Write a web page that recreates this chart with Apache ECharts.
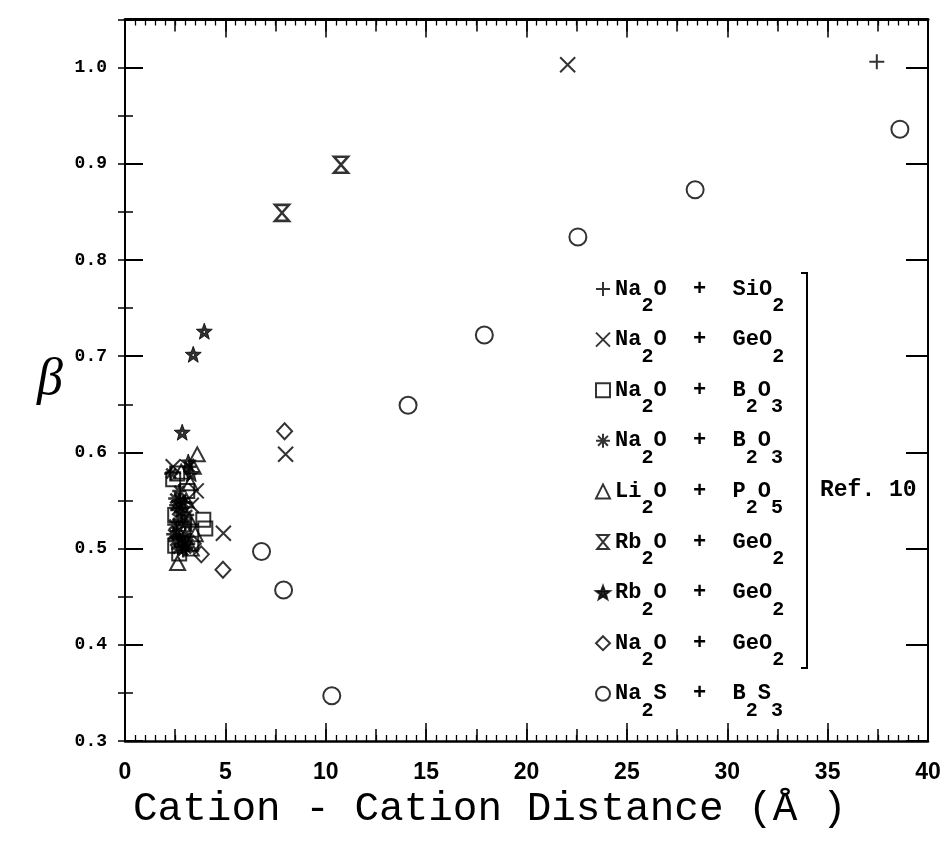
<!DOCTYPE html>
<html>
<head>
<meta charset="utf-8">
<title>β vs cation-cation distance</title>
<script src="https://cdn.jsdelivr.net/npm/echarts@6/dist/echarts.min.js"></script>
<style>
  html, body { margin: 0; padding: 0; background: #fff; }
  #chart { width: 947px; height: 848px; }
</style>
</head>
<body>
<div id="chart"></div>
<script>
// Axis ranges and tick spacing
const xRange = [0, 40];
const yRange = [0.3, 1.05];
const xMajor = 5, xMedium = 2.5;
const yMajor = 0.1, yMinor = 0.05;

// Series keys (unique) and their legend labels (rich text with subscripts)
const seriesKeys = ['NaSi', 'NaGeX', 'NaBsq', 'NaBast', 'LiP', 'RbGeHg', 'RbGeStar', 'NaGeDia', 'NaSB'];
const legendLabels = [
  '{m|Na}{s|2}{m|O  +  SiO}{s|2}',
  '{m|Na}{s|2}{m|O  +  GeO}{s|2}',
  '{m|Na}{s|2}{m|O  +  B}{s|2}{m|O}{s|3}',
  '{m|Na}{s|2}{m|O  +  B}{s|2}{m|O}{s|3}',
  '{m|Li}{s|2}{m|O  +  P}{s|2}{m|O}{s|5}',
  '{m|Rb}{s|2}{m|O  +  GeO}{s|2}',
  '{m|Rb}{s|2}{m|O  +  GeO}{s|2}',
  '{m|Na}{s|2}{m|O  +  GeO}{s|2}',
  '{m|Na}{s|2}{m|S  +  B}{s|2}{m|S}{s|3}'
];

// Data: [cation-cation distance (Å), β]
const naSi = [[37.45, 1.006], [3.0, 0.548], [3.3, 0.525], [2.7, 0.512]];
const naGeX = [[22.05, 1.003], [8.0, 0.598], [4.9, 0.516], [3.55, 0.56], [2.4, 0.585], [3.3, 0.545]];
const naBsq = [[2.4, 0.572], [2.6, 0.578], [3.9, 0.530], [4.0, 0.521], [2.5, 0.503], [2.7, 0.495],
               [3.3, 0.505], [2.9, 0.52], [2.5, 0.535], [3.1, 0.56]];
const naBast = [[2.3, 0.578], [2.5, 0.552], [2.6, 0.540], [2.7, 0.530], [2.9, 0.548], [2.6, 0.518],
                [2.8, 0.505], [2.5, 0.508], [3.0, 0.515], [2.7, 0.56], [3.1, 0.535], [2.9, 0.498],
                [3.2, 0.585], [2.45, 0.525], [2.8, 0.538], [3.0, 0.525], [2.55, 0.545], [2.9, 0.51],
                [2.65, 0.5], [3.15, 0.505], [2.4, 0.515], [2.75, 0.55], [3.05, 0.5]];
const liP = [[3.6, 0.598], [3.25, 0.568], [2.62, 0.485], [3.4, 0.585], [3.05, 0.55], [3.3, 0.5],
             [2.8, 0.58], [3.5, 0.515], [3.2, 0.53]];
const rbGeHg = [[10.76, 0.899], [7.82, 0.849]];
const rbGeStar = [[3.95, 0.726], [3.4, 0.702], [2.85, 0.621], [3.15, 0.59], [3.3, 0.578]];
const naGeDia = [[7.95, 0.622], [4.88, 0.478], [3.8, 0.494], [3.4, 0.505]];
const naSB = [[38.6, 0.936], [28.4, 0.873], [22.56, 0.824], [17.9, 0.722], [14.1, 0.649],
              [6.8, 0.497], [7.9, 0.457], [10.3, 0.347]];

// Marker shapes
const SYM_PLUS = 'path://M0,5L10,5M5,0L5,10';
const SYM_CROSS = 'path://M0,0L10,10M10,0L0,10';
const SYM_AST = 'path://M0,5L10,5M5,0L5,10M1.5,1.5L8.5,8.5M8.5,1.5L1.5,8.5';
const SYM_HOUR = 'path://M0,0L10,0L0,12L10,12Z';
const SYM_STAR = 'path://M10,0L12.47,6.6L19.51,6.91L13.99,11.3L15.88,18.09L10,14.2L4.12,18.09L6.01,11.3L0.49,6.91L7.53,6.6Z' +
                 'M10,8.2L8.29,9.44L8.94,11.46L11.06,11.46L11.71,9.44Z';

const hollow = { color: 'rgba(0,0,0,0)', borderColor: '#000', borderWidth: 2 };
const heavy = { color: 'rgba(0,0,0,0)', borderColor: '#000', borderWidth: 2.5 };
const solid = { color: '#000', borderColor: '#000', borderWidth: 1 };

const seriesDefs = [
  { data: naSi, symbol: SYM_PLUS, size: 15, style: hollow },
  { data: naGeX, symbol: SYM_CROSS, size: 15, style: hollow },
  { data: naBsq, symbol: 'rect', size: 14, style: hollow },
  { data: naBast, symbol: SYM_AST, size: 14, style: heavy },
  { data: liP, symbol: 'triangle', size: [15, 14], style: hollow },
  { data: rbGeHg, symbol: SYM_HOUR, size: [14, 16], style: heavy },
  { data: rbGeStar, symbol: SYM_STAR, size: 16, style: solid },
  { data: naGeDia, symbol: 'diamond', size: [15, 16], style: hollow },
  { data: naSB, symbol: 'circle', size: 17, style: hollow }
];

const series = seriesDefs.map((d, i) => ({
  type: 'scatter',
  name: seriesKeys[i],
  xAxisIndex: 0,
  yAxisIndex: 0,
  data: d.data,
  symbol: d.symbol,
  symbolSize: d.size,
  itemStyle: d.style,
  emphasis: { disabled: true },
  animation: false
}));

const black = '#000';
const noLabel = { show: false };
const noSplit = { show: false };

function tickAxis(base, extra) {
  return Object.assign({
    type: 'value',
    splitLine: noSplit,
    axisLabel: noLabel,
    axisLine: { show: false },
    axisTick: { show: true, inside: true, length: 10, lineStyle: { color: black, width: 1.5 } }
  }, base, extra);
}

const xAxes = [
  tickAxis({ position: 'bottom', min: xRange[0], max: xRange[1], interval: xMajor }, {
    axisLine: { show: true, onZero: false, lineStyle: { color: black, width: 2.5 } },
    axisTick: { show: true, inside: true, length: 18, lineStyle: { color: black, width: 1.5 } },
    minorTick: { show: true, splitNumber: 10, length: 6, lineStyle: { color: black, width: 1.3 } },
    axisLabel: {
      show: true, margin: 20, color: black,
      fontFamily: '"Liberation Sans Narrow", "Liberation Sans", sans-serif',
      fontWeight: 'bold', fontSize: 23
    }
  }),
  tickAxis({ position: 'bottom', min: xRange[0], max: xRange[1], interval: xMedium }, {
    axisTick: { show: true, inside: true, length: 12, lineStyle: { color: black, width: 1.5 } }
  }),
  tickAxis({ position: 'top', min: xRange[0], max: xRange[1], interval: xMajor }, {
    axisLine: { show: true, onZero: false, lineStyle: { color: black, width: 3 } },
    axisTick: { show: true, inside: true, length: 18, lineStyle: { color: black, width: 1.5 } },
    minorTick: { show: true, splitNumber: 10, length: 6, lineStyle: { color: black, width: 1.3 } }
  }),
  tickAxis({ position: 'top', min: xRange[0], max: xRange[1], interval: xMedium }, {
    axisTick: { show: true, inside: true, length: 12, lineStyle: { color: black, width: 1.5 } }
  })
];

const yAxes = [
  tickAxis({ position: 'left', min: yRange[0], max: yRange[1], interval: yMajor }, {
    axisLine: { show: true, onZero: false, lineStyle: { color: black, width: 2 } },
    axisTick: { show: true, inside: true, length: 18, lineStyle: { color: black, width: 2 } },
    axisLabel: {
      show: true, margin: 18, color: black, showMaxLabel: false,
      formatter: v => v.toFixed(1),
      fontFamily: '"Liberation Mono", monospace', fontWeight: 'bold', fontSize: 18
    },
    name: 'β',
    nameLocation: 'middle',
    nameRotate: 0,
    nameGap: 62,
    nameTextStyle: { fontFamily: '"Liberation Serif", serif', fontStyle: 'italic', fontSize: 52, color: black }
  }),
  tickAxis({ position: 'left', min: yRange[0], max: yRange[1], interval: yMinor }, {
    axisTick: { show: true, inside: true, length: 8, lineStyle: { color: black, width: 1.5 } }
  }),
  tickAxis({ position: 'right', min: yRange[0], max: yRange[1], interval: yMajor }, {
    axisLine: { show: true, onZero: false, lineStyle: { color: black, width: 2 } },
    axisTick: { show: true, inside: true, length: 22, lineStyle: { color: black, width: 2 } }
  }),
  tickAxis({ position: 'right', min: yRange[0], max: yRange[1], interval: yMinor }, {
    axisTick: { show: true, inside: true, length: 7, lineStyle: { color: black, width: 1.5 } }
  })
];

const chart = echarts.init(document.getElementById('chart'), null, { renderer: 'canvas' });

chart.setOption({
  backgroundColor: '#fff',
  animation: false,
  grid: { left: 125, right: 19, top: 19.5, bottom: 107, containLabel: false },
  title: {
    text: 'Cation - Cation Distance (Å )',
    left: 133,
    top: 789,
    padding: 0,
    textStyle: { fontFamily: '"Liberation Mono", monospace', fontWeight: 'normal', fontSize: 41, color: black }
  },
  legend: {
    orient: 'vertical',
    left: 595,
    top: 278,
    padding: 0,
    itemWidth: 14,
    itemHeight: 14,
    itemGap: 12.6,
    selectedMode: false,
    data: seriesKeys,
    itemStyle: { borderWidth: 2 },
    formatter: name => legendLabels[seriesKeys.indexOf(name)],
    textStyle: {
      color: black,
      rich: {
        m: { fontFamily: '"Liberation Mono", monospace', fontWeight: 'bold', fontSize: 22, lineHeight: 22, verticalAlign: 'top', color: black },
        s: { fontFamily: '"Liberation Mono", monospace', fontWeight: 'bold', fontSize: 20, lineHeight: 18, padding: [18, 0, 0, 0], verticalAlign: 'top', color: black }
      }
    }
  },
  xAxis: xAxes,
  yAxis: yAxes,
  series: series,
  graphic: [
    {
      type: 'polyline',
      shape: { points: [[801, 273], [807, 273], [807, 668], [801, 668]] },
      style: { stroke: black, lineWidth: 2, fill: null }
    },
    {
      type: 'text',
      x: 820,
      y: 490,
      style: {
        text: 'Ref. 10',
        fontFamily: '"Liberation Mono", monospace',
        fontWeight: 'bold',
        fontSize: 23,
        fill: black,
        verticalAlign: 'middle',
        align: 'left'
      }
    }
  ]
});
</script>
</body>
</html>
